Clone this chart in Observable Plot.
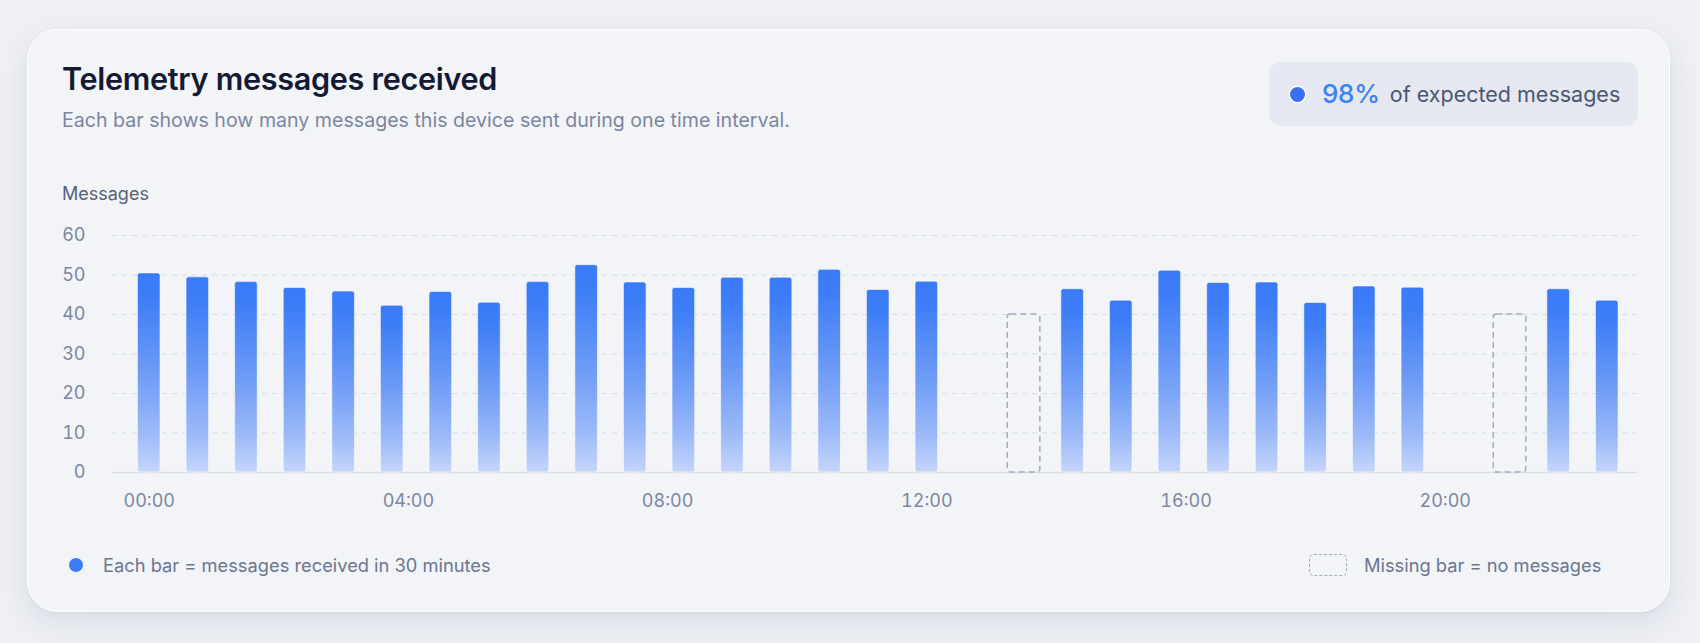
<!DOCTYPE html>
<html>
<head>
<meta charset="utf-8">
<script src="https://cdn.jsdelivr.net/npm/d3@7"></script>
<script src="https://cdn.jsdelivr.net/npm/@observablehq/plot@0.6"></script>
<style>
  html, body { margin: 0; padding: 0; }
  body {
    width: 1700px; height: 643px; overflow: hidden; position: relative;
    background: #eef0f5; font-family: Inter, "Noto Sans", sans-serif;
  }
  .card {
    position: absolute; left: 27px; top: 29px; width: 1643px; height: 583px;
    box-sizing: border-box; border-radius: 30px; background: #f3f4f8;
    border: 1.5px solid #ffffff;
    box-shadow: 0 10px 30px rgba(40, 52, 90, 0.10), 0 1px 3px rgba(40,52,90,0.06);
  }
  .abs { position: absolute; white-space: nowrap; line-height: 1; }
  .title { left: 62px; top: 64px; font-size: 30.6px; font-weight: 600; color: #141a33; letter-spacing: -0.01em; }
  .subtitle { left: 62px; top: 111px; font-size: 19.6px; color: #7b869f; }
  .ylabel { left: 62px; top: 185px; font-size: 18px; color: #56607a; }
  .badge {
    position: absolute; left: 1269px; top: 62px; width: 369px; height: 64px;
    border-radius: 12px; background: #e5e8f0; display: flex; align-items: center;
    box-sizing: border-box; padding-left: 21px;
  }
  .badge .dot { width: 15px; height: 15px; border-radius: 50%; background: #3b6ff2; box-shadow: 0 0 0 1.5px #ffffff; flex: none; }
  .badge .pct { margin-left: 17px; font-size: 26px; font-weight: 500; color: #3b82f6; line-height: 1; letter-spacing: -0.01em; }
  .badge .txt { margin-left: 10px; font-size: 21.5px; color: #4b5670; line-height: 1; position: relative; top: 1px; }
  .legend { display: flex; align-items: center; font-size: 18.3px; color: #6b7690; }
  .ldot { width: 14px; height: 14px; border-radius: 50%; background: #3b7cf6; margin-right: 20px; }
  .lbox { width: 38px; height: 22px; box-sizing: border-box; border: 1.5px dashed #a3abbd; border-radius: 5px; margin-right: 17px; }
  #chart { position: absolute; left: 0; top: 214px; }
</style>
</head>
<body>
<svg width="0" height="0" style="position:absolute">
  <defs>
    <linearGradient id="barGrad" x1="0" y1="0" x2="0" y2="1">
      <stop offset="0" stop-color="#3a7af7"/>
      <stop offset="0.12" stop-color="#3d7df7"/>
      <stop offset="0.5" stop-color="#6d9bf6"/>
      <stop offset="0.8" stop-color="#9bb9f8"/>
      <stop offset="1" stop-color="#c5d5fb"/>
    </linearGradient>
  </defs>
</svg>
<div class="card"></div>
<div class="abs title">Telemetry messages received</div>
<div class="abs subtitle">Each bar shows how many messages this device sent during one time interval.</div>
<div class="abs ylabel">Messages</div>
<div class="badge"><div class="dot"></div><span class="pct">98%</span><span class="txt">of expected messages</span></div>
<div class="abs legend" style="left:69px; top:556px;"><div class="ldot"></div><span>Each bar = messages received in 30 minutes</span></div>
<div class="abs legend" style="left:1309px; top:554px;"><div class="lbox"></div><span>Missing bar = no messages</span></div>
<div id="chart"></div>
<script>
// ---- data ----
const barTimes = ["00:00","00:45","01:30","02:15","03:00","03:45","04:30","05:15","06:00","06:45",
                  "07:30","08:15","09:00","09:45","10:30","11:15","12:00",
                  "14:15","15:00","15:45","16:30","17:15","18:00","18:45","19:30",
                  "21:45","22:30"];
const barCounts = [50.4,49.4,48.2,46.7,45.8,42.2,45.7,43.0,48.2,52.5,
                   48.1,46.7,49.3,49.3,51.3,46.2,48.3,
                   46.4,43.5,51.1,48.0,48.1,42.9,47.1,46.8,
                   46.4,43.5];
const missingTimes = ["13:30","21:00"];
const missingMarkerValue = 40;
const slotMinutes = 45;
const yTicks = [0,10,20,30,40,50,60];
const xTickLabels = ["00:00","04:00","08:00","12:00","16:00","20:00"];

// ---- helpers ----
const parseTime = s => { const [h, m] = s.split(":").map(Number); return new Date(Date.UTC(2024, 0, 1, h, m)); };
const halfSlot = slotMinutes * 60000 / 2;
const bars = barTimes.map((t, i) => ({time: parseTime(t), count: barCounts[i]}));
const missing = missingTimes.map(t => ({time: parseTime(t), value: missingMarkerValue}));

const chart = Plot.plot({
  width: 1700,
  height: 300,
  marginLeft: 112,
  marginRight: 63,
  marginTop: 21,
  marginBottom: 42,
  x: {type: "utc", domain: [new Date(+parseTime("00:00") - 34 * 60000), parseTime("22:58")]},
  y: {domain: [0, 60]},
  style: {background: "transparent", fontFamily: "Inter, sans-serif", fontSize: "18px", color: "#7c87a0", overflow: "visible"},
  marks: [
    Plot.gridY(yTicks.filter(d => d > 0), {stroke: "#d6dbe5", strokeOpacity: 1, strokeDasharray: "5,5"}),
    Plot.ruleY([0], {stroke: "#d9dde8", strokeWidth: 1.5}),
    Plot.rectY(bars, {
      x1: d => new Date(+d.time - halfSlot),
      x2: d => new Date(+d.time + halfSlot),
      y: "count",
      insetLeft: 13, insetRight: 13,
      fill: "url(#barGrad)", stroke: "#ffffff", strokeWidth: 0.8, strokeOpacity: 0.7,
      rx: 2.5
    }),
    Plot.rectY(missing, {
      x1: d => new Date(+d.time - halfSlot),
      x2: d => new Date(+d.time + halfSlot),
      y1: () => 0,
      y2: "value",
      insetLeft: 8, insetRight: 8,
      fill: "none", stroke: "#a3abbd", strokeWidth: 1.5, strokeDasharray: "6,4",
      rx: 3
    }),
    Plot.axisY({ticks: yTicks, tickSize: 0, tickPadding: 27, label: null, fontSize: 18}),
    Plot.axisX({ticks: xTickLabels.map(parseTime), tickFormat: d3.utcFormat("%H:%M"), tickSize: 0, tickPadding: 22, label: null, fontSize: 18})
  ]
});
document.getElementById("chart").appendChild(chart);
</script>
</body>
</html>
